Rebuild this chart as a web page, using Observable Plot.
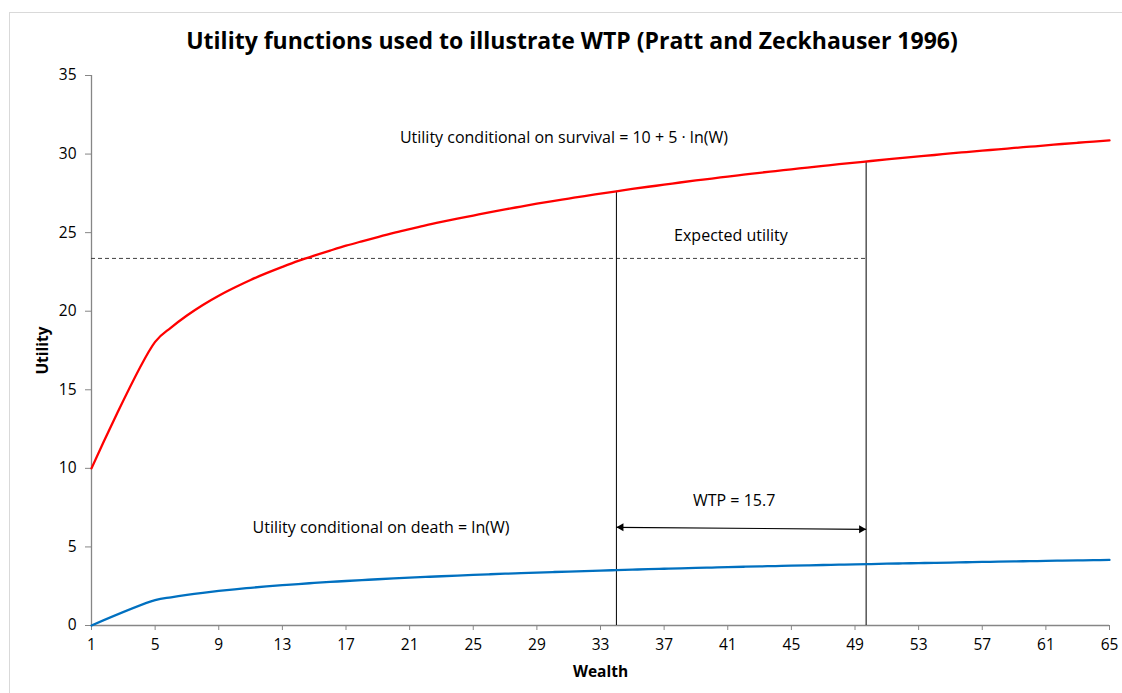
<!DOCTYPE html>
<html>
<head>
<meta charset="utf-8">
<script src="https://cdn.jsdelivr.net/npm/d3@7"></script>
<script src="https://cdn.jsdelivr.net/npm/@observablehq/plot@0.6"></script>
<style>
  html, body { margin: 0; padding: 0; background: #fff; }
  #wrap { position: relative; width: 1122px; height: 693px; overflow: hidden; font-family: "Open Sans", sans-serif; }
  #border { position: absolute; left: 9px; top: 12px; width: 1120px; height: 690px; border: 1px solid #d9d9d9; box-sizing: border-box; }
  #title { position: absolute; left: 0; top: 24px; width: 1144px; text-align: center; font-weight: bold; font-size: 23px; color: #000; }
  #chart { position: absolute; left: 0; top: 60px; }
  #chart svg g[aria-label="x-axis label"] text, #chart svg g[aria-label="y-axis label"] text { font-weight: bold; }
</style>
</head>
<body>
<div id="wrap">
  <div id="border"></div>
  <div id="title">Utility functions used to illustrate WTP (Pratt and Zeckhauser 1996)</div>
  <div id="chart"></div>
</div>
<script>
// Wealth values plotted
const wealth = [1, 5, 6, 7, 8, 9, 10, 11, 12, 13, 14, 15, 16, 17, 18, 19, 20, 21, 22, 23, 24, 25, 26, 27, 28, 29, 30, 31, 32, 33, 34, 35, 36, 37, 38, 39, 40, 41, 42, 43, 44, 45, 46, 47, 48, 49, 50, 51, 52, 53, 54, 55, 56, 57, 58, 59, 60, 61, 62, 63, 64, 65];
// Utility conditional on survival = 10 + 5 ln(W)
const survival = [10.00, 18.05, 18.96, 19.73, 20.40, 20.99, 21.51, 21.99, 22.42, 22.82, 23.20, 23.54, 23.86, 24.17, 24.45, 24.72, 24.98, 25.22, 25.46, 25.68, 25.89, 26.09, 26.29, 26.48, 26.66, 26.84, 27.01, 27.17, 27.33, 27.48, 27.63, 27.78, 27.92, 28.05, 28.19, 28.32, 28.44, 28.57, 28.69, 28.81, 28.92, 29.03, 29.14, 29.25, 29.36, 29.46, 29.56, 29.66, 29.76, 29.85, 29.94, 30.04, 30.13, 30.22, 30.30, 30.39, 30.47, 30.55, 30.64, 30.72, 30.79, 30.87];
// Utility conditional on death = ln(W)
const death = [0.000, 1.609, 1.792, 1.946, 2.079, 2.197, 2.303, 2.398, 2.485, 2.565, 2.639, 2.708, 2.773, 2.833, 2.890, 2.944, 2.996, 3.045, 3.091, 3.135, 3.178, 3.219, 3.258, 3.296, 3.332, 3.367, 3.401, 3.434, 3.466, 3.497, 3.526, 3.555, 3.584, 3.611, 3.638, 3.664, 3.689, 3.714, 3.738, 3.761, 3.784, 3.807, 3.829, 3.850, 3.871, 3.892, 3.912, 3.932, 3.951, 3.970, 3.989, 4.007, 4.025, 4.043, 4.060, 4.078, 4.094, 4.111, 4.127, 4.143, 4.159, 4.174];

const xTicks = [1, 5, 9, 13, 17, 21, 25, 29, 33, 37, 41, 45, 49, 53, 57, 61, 65];
const yTicks = [0, 5, 10, 15, 20, 25, 30, 35];

// Annotation values
const expectedUtility = 23.36;
const wLow = 34;
const wHigh = 49.7;
const uLow = 27.63;
const uHigh = 29.53;
const arrowY = [6.25, 6.12];

const labels = [
  {x: 30.7, y: 31.05, text: "Utility conditional on survival = 10 + 5 · ln(W)"},
  {x: 41.2, y: 24.8, text: "Expected utility"},
  {x: 41.4, y: 7.9, text: "WTP = 15.7"},
  {x: 19.2, y: 6.22, text: "Utility conditional on death = ln(W)"}
];

const rows = wealth.map((w, i) => ({w, s: survival[i], d: death[i]}));

const axisColor = "#868686";

const chart = Plot.plot({
  width: 1122,
  height: 633,
  marginTop: 15,
  marginBottom: 68,
  marginLeft: 91,
  marginRight: 13,
  style: {fontFamily: "'Open Sans', sans-serif", fontSize: "15px", color: "#000", background: "transparent"},
  x: {domain: [1, 65]},
  y: {domain: [0, 35]},
  marks: [
    Plot.axisX({ticks: xTicks, tickSize: 5, tickPadding: 8, stroke: axisColor, fill: "#000", fontSize: 15.5,
      label: "Wealth", labelAnchor: "center", labelOffset: 51, labelArrow: "none"}),
    Plot.axisY({ticks: yTicks, tickSize: 6, tickPadding: 9, stroke: axisColor, fill: "#000", fontSize: 15.5,
      label: "Utility", labelAnchor: "center", labelOffset: 55, labelArrow: "none"}),
    Plot.ruleY([0], {stroke: axisColor, strokeWidth: 1.3}),
    Plot.ruleX([1], {stroke: axisColor, strokeWidth: 1.3}),
    // expected utility dashed line
    Plot.ruleY([expectedUtility], {x1: 1, x2: wHigh, stroke: "#404040", strokeWidth: 1, strokeDasharray: "4,3"}),
    // vertical lines
    Plot.ruleX([{x: wLow, y: uLow}, {x: wHigh, y: uHigh}], {x: "x", y1: 0, y2: "y", stroke: "#000", strokeWidth: 1}),
    // WTP arrow
    Plot.link([{x1: wLow, x2: wHigh}], {x1: "x1", x2: "x2", y1: arrowY[0], y2: arrowY[1], stroke: "#000", strokeWidth: 1.2}),
    Plot.dot([{x: wLow, y: arrowY[0]}], {x: "x", y: "y", symbol: "triangle", r: 3, rotate: -90, dx: 4.7, fill: "#000", stroke: "none"}),
    Plot.dot([{x: wHigh, y: arrowY[1]}], {x: "x", y: "y", symbol: "triangle", r: 3, rotate: 90, dx: -4.7, fill: "#000", stroke: "none"}),
    // curves
    Plot.line(rows, {x: "w", y: "s", stroke: "#ff0000", strokeWidth: 2.3, curve: "catmull-rom"}),
    Plot.line(rows, {x: "w", y: "d", stroke: "#0070c0", strokeWidth: 2.3, curve: "catmull-rom"}),
    // annotations
    Plot.text(labels, {x: "x", y: "y", text: "text", fontSize: 16, fill: "#000"})
  ]
});
document.getElementById("chart").appendChild(chart);
</script>
</body>
</html>
